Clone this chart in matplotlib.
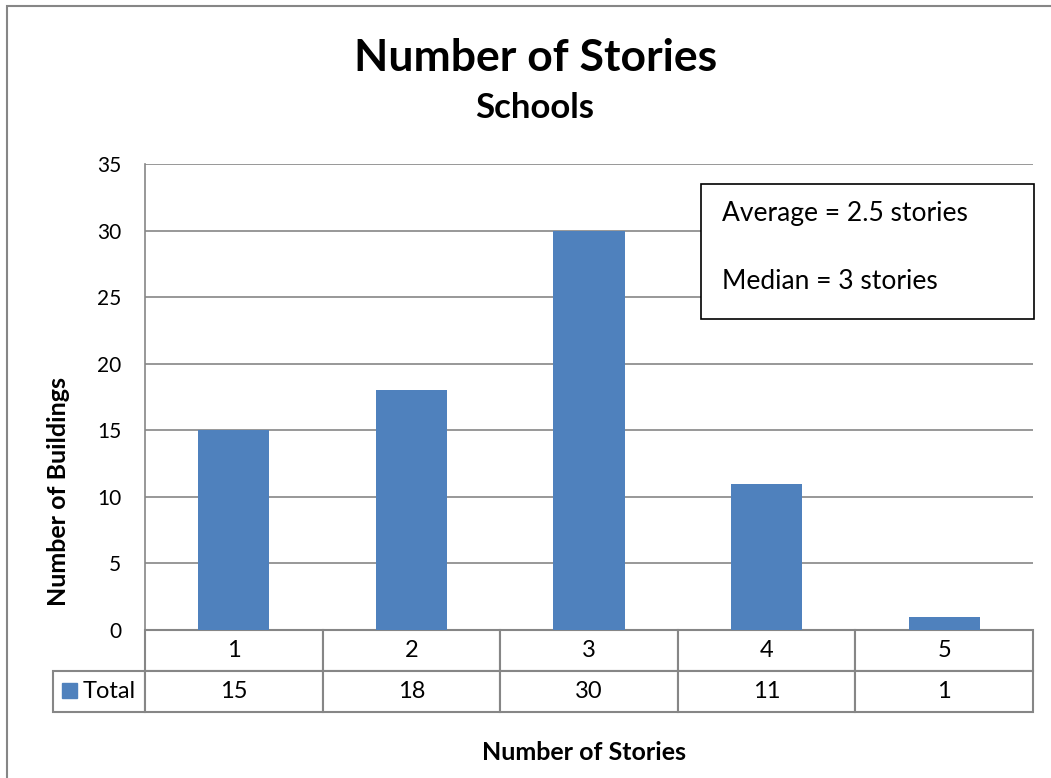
import matplotlib
matplotlib.use("Agg")
import matplotlib.pyplot as plt
from matplotlib.patches import Rectangle

plt.rcParams['font.family'] = ['Lato', 'DejaVu Sans']

# Datos del histograma
stories = [1, 2, 3, 4, 5]
buildings = [15, 18, 30, 11, 1]
series_name = 'Total'
stats_lines = ['Average = 2.5 stories', 'Median = 3 stories']

bar_color = '#4F81BD'
grid_color = '#868686'

W, H = 1051, 778
fig = plt.figure(figsize=(W / 100, H / 100), dpi=100)

# Borde exterior del gráfico
fig.patches.append(Rectangle((7 / W, -0.05), 1.2, 1 - 6 / H + 0.05,
                             transform=fig.transFigure, fill=False,
                             edgecolor=grid_color, linewidth=1.5))

left, right, top, bottom = 145, 1033, 164, 630
aw, ah = right - left, bottom - top
ax = fig.add_axes([left / W, 1 - bottom / H, aw / W, ah / H])

ax.bar(stories, buildings, width=0.4, color=bar_color, zorder=3)
ax.set_xlim(0.5, 5.5)
ax.set_ylim(0, 35)
ax.set_yticks(range(0, 36, 5))
ax.set_xticks([])
ax.grid(axis='y', color=grid_color, linewidth=1.2)
ax.set_axisbelow(True)
for s in ['top', 'right', 'bottom']:
    ax.spines[s].set_visible(False)
ax.spines['left'].set_color(grid_color)
ax.spines['left'].set_linewidth(1.2)
ax.tick_params(axis='y', length=0, pad=17, labelsize=15)

# Tabla de datos bajo el eje
row_w = 92 / aw
tab_h = 82 / ah
cells = [[''] + [str(s) for s in stories],
         [series_name] + [str(v) for v in buildings]]
table = ax.table(cellText=cells, cellLoc='center',
                 colWidths=[row_w] + [0.2] * len(stories),
                 bbox=[-row_w, -tab_h, 1 + row_w, tab_h])
table.auto_set_font_size(False)
for (r, c), cell in table.get_celld().items():
    cell.set_edgecolor(grid_color)
    cell.set_linewidth(1.5)
    cell.set_fontsize(17)
    if (r, c) == (0, 0):
        cell.set_linewidth(0)
        cell.set_facecolor('none')
# etiqueta de la serie alineada a la izquierda, tras el cuadro de color
label_cell = table[1, 0]
label_cell._loc = 'left'
label_cell.PAD = 0.32
label_cell.set_text_props(ha='left')
ax.add_patch(Rectangle((-row_w + 9 / aw, -tab_h + 14 / ah),
                       15 / aw, 15 / ah,
                       transform=ax.transAxes, color=bar_color, clip_on=False,
                       zorder=10))

# Cuadro con estadísticas
ax.add_patch(Rectangle((0.626, 0.667), 0.3755, 0.29, transform=ax.transAxes,
                       facecolor='white', edgecolor='black', linewidth=1.2,
                       zorder=5, clip_on=False))
ax.text(0.65, 0.893, stats_lines[0], transform=ax.transAxes, fontsize=19,
        va='center', zorder=6)
ax.text(0.65, 0.747, stats_lines[1], transform=ax.transAxes, fontsize=19,
        va='center', zorder=6)

fig.text(536 / W, 1 - 58 / H, 'Number of Stories', ha='center', va='center',
         fontsize=32, fontweight='bold')
fig.text(535 / W, 1 - 108 / H, 'Schools', ha='center', va='center',
         fontsize=25, fontweight='bold')
fig.text(584 / W, 1 - 752 / H, 'Number of Stories', ha='center', va='center',
         fontsize=18, fontweight='bold')
fig.text(58 / W, 1 - 492 / H, 'Number of Buildings', ha='center', va='center',
         rotation=90, fontsize=18, fontweight='bold')

fig.savefig('out.png', dpi=100)
